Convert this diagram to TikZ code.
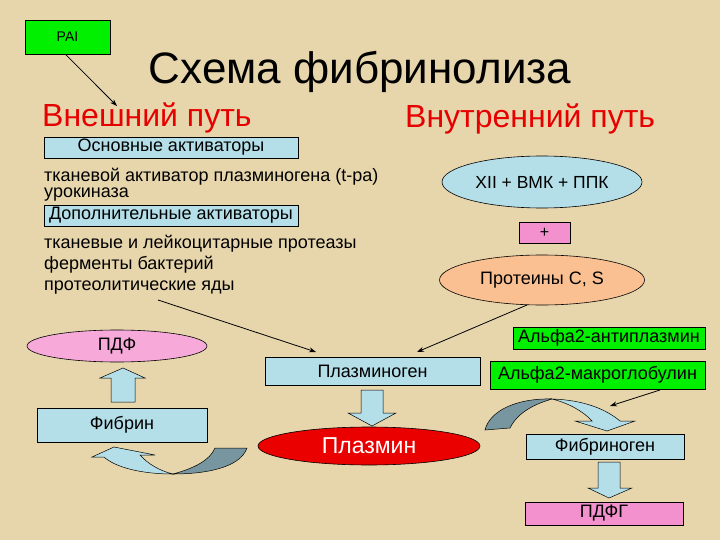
\documentclass[tikz,border=0pt]{standalone}
\usepackage{fontspec}
\setmainfont{Liberation Sans}
\usetikzlibrary{arrows.meta,shapes.geometric}
\definecolor{bg}{RGB}{231,214,172}
\definecolor{lblue}{RGB}{180,222,232}
\definecolor{pinkA}{RGB}{242,145,205}
\definecolor{pinkB}{RGB}{247,170,218}
\definecolor{peach}{RGB}{250,192,145}
\definecolor{grn}{RGB}{0,240,0}
\definecolor{redt}{RGB}{230,0,0}
\definecolor{slate}{RGB}{120,150,160}
\definecolor{plred}{RGB}{235,0,0}
\begin{document}
\begin{tikzpicture}[x=1pt,y=-1pt,
 box/.style={draw=black, line width=0.7pt, inner sep=0pt},
 fs/.style={font=\fontsize{#1}{#1}\selectfont},
 txt/.style={inner sep=0pt},
 tight/.style={text height=9.5pt, text depth=3pt},
 oval/.style={ellipse, draw=black, line width=0.6pt, inner sep=0pt},
 arr/.style={-{Stealth[length=7pt,width=5pt]}, line width=0.8pt},
 blk/.style={fill=lblue, draw=black, line width=0.5pt},
]
\fill[bg] (0,0) rectangle (720,540);
\useasboundingbox (0,0) rectangle (720,540);

% top
\node[box, fill=grn, minimum width=85pt, minimum height=34pt, fs=14] (pai) at (67.5,37) {PAI};
\node[txt, fs=44, anchor=base] (title) at (360,84) {Схема фибринолиза};
\node[txt, fs=32, text=redt, anchor=base west] (ext) at (42,127) {Внешний путь};
\node[txt, fs=32, text=redt, anchor=base west] (int) at (405,128) {Внутренний путь};
\coordinate (paiend) at (117,106);
\draw[arr] (pai.south) ++(-2,0) coordinate (paistart) (paistart) -- (paiend);

% left text block
\node[box, fill=lblue, minimum width=254pt, minimum height=21pt, fs=18] (osn) at (171,147.5) {Основные активаторы};
\node[txt, tight, fs=18, anchor=base west] (l1) at (44,181.5) {тканевой активатор плазминогена (t-pa)};
\node[txt, tight, fs=18, anchor=base west] (l2) at (44,198) {урокиназа};
\node[box, fill=lblue, minimum width=254pt, minimum height=21pt, fs=18] (dop) at (171,215.5) {Дополнительные активаторы};
\node[txt, fs=18, anchor=base west] (l3) at (44,248) {тканевые и лейкоцитарные протеазы};
\node[txt, fs=18, anchor=base west] (l4) at (44,269) {ферменты бактерий};
\node[txt, fs=18, anchor=base west] (l5) at (44,290) {протеолитические яды};

% right top
\node[oval, fill=lblue, minimum width=200pt, minimum height=52pt, fs=17.5] (xii) at (542,182) {XII + ВМК + ППК};
\node[box, fill=pinkA, minimum width=51pt, minimum height=21pt, fs=16] (plus) at (544.5,232.5) {+};
\node[oval, fill=peach, minimum width=205pt, minimum height=50pt, fs=18] (prot) at (542,280) {Протеины C, S};

% middle
\node[box, fill=lblue, minimum width=215pt, minimum height=28pt, fs=18] (plg) at (372.5,371) {Плазминоген};
\node[oval, fill=pinkB, minimum width=180pt, minimum height=32pt, fs=18] (pdf) at (117,346) {ПДФ};
\node[box, fill=lblue, minimum width=170pt, minimum height=34pt, fs=18] (fib) at (122,425) {Фибрин};
\node[oval, fill=plred, minimum width=222pt, minimum height=38pt, fs=23, text=white] (pl) at (369,446) {Плазмин};

\node[box, fill=grn, minimum width=192pt, minimum height=22pt, fs=18] (a2a) at (609,338) {Альфа2-антиплазмин};
\node[box, fill=grn, minimum width=215pt, minimum height=28pt, fs=18] (a2m) at (597.5,375) {Альфа2-макроглобулин};
\node[box, fill=lblue, minimum width=158pt, minimum height=25pt, fs=18] (fbg) at (605,446.5) {Фибриноген};
\node[box, fill=pinkA, minimum width=158pt, minimum height=23pt, fs=18] (pdfg) at (604,513.5) {ПДФГ};

% line arrows
\coordinate (ydstart) at (158,300);
\coordinate (ydend) at (316,352);
\draw[arr] (ydstart) -- (ydend);
\coordinate (prstart) at (527,305);
\coordinate (prend) at (417,352);
\draw[arr] (prstart) -- (prend);
\coordinate (a2mstart) at (660,390);
\coordinate (a2mend) at (610,406);
\draw[arr] (a2mstart) -- (a2mend);

% block arrows
\draw[blk] (111,402) -- (111,378) -- (100,378) -- (123,368) -- (145,378) -- (135,378) -- (135,402) -- cycle;
\draw[blk] (361,390) -- (361,413) -- (348,413) -- (372,426) -- (396,413) -- (383,413) -- (383,390) -- cycle;
\draw[blk] (598,462) -- (598,488) -- (588,488) -- (609,498) -- (632,488) -- (620,488) -- (620,462) -- cycle;

% curved arrow under Fibrin
\draw[fill=slate, line width=0.5pt] (247,448) .. controls (240,468) and (205,474) .. (173,474)
  .. controls (195,468) and (210,460) .. (215,448) -- cycle;
\draw[fill=lblue, line width=0.5pt] (173,474) .. controls (140,474) and (115,467) .. (104,457)
  -- (92,457) -- (114,447) -- (155,455) -- (140,455) .. controls (148,464) and (160,471) .. (173,474) -- cycle;

% curved arrow Plasmin -> Fibrinogen
\draw[fill=slate, line width=0.5pt] (485,430) .. controls (490,410) and (518,398) .. (552,399)
  .. controls (535,404) and (518,412) .. (510,428) -- cycle;
\draw[fill=lblue, line width=0.5pt] (552,399) .. controls (585,400) and (607,410) .. (620,421)
  -- (635,421) -- (607,431) -- (575,421) -- (592,421) .. controls (583,411) and (568,403) .. (552,399) -- cycle;
\end{tikzpicture}
\end{document}
